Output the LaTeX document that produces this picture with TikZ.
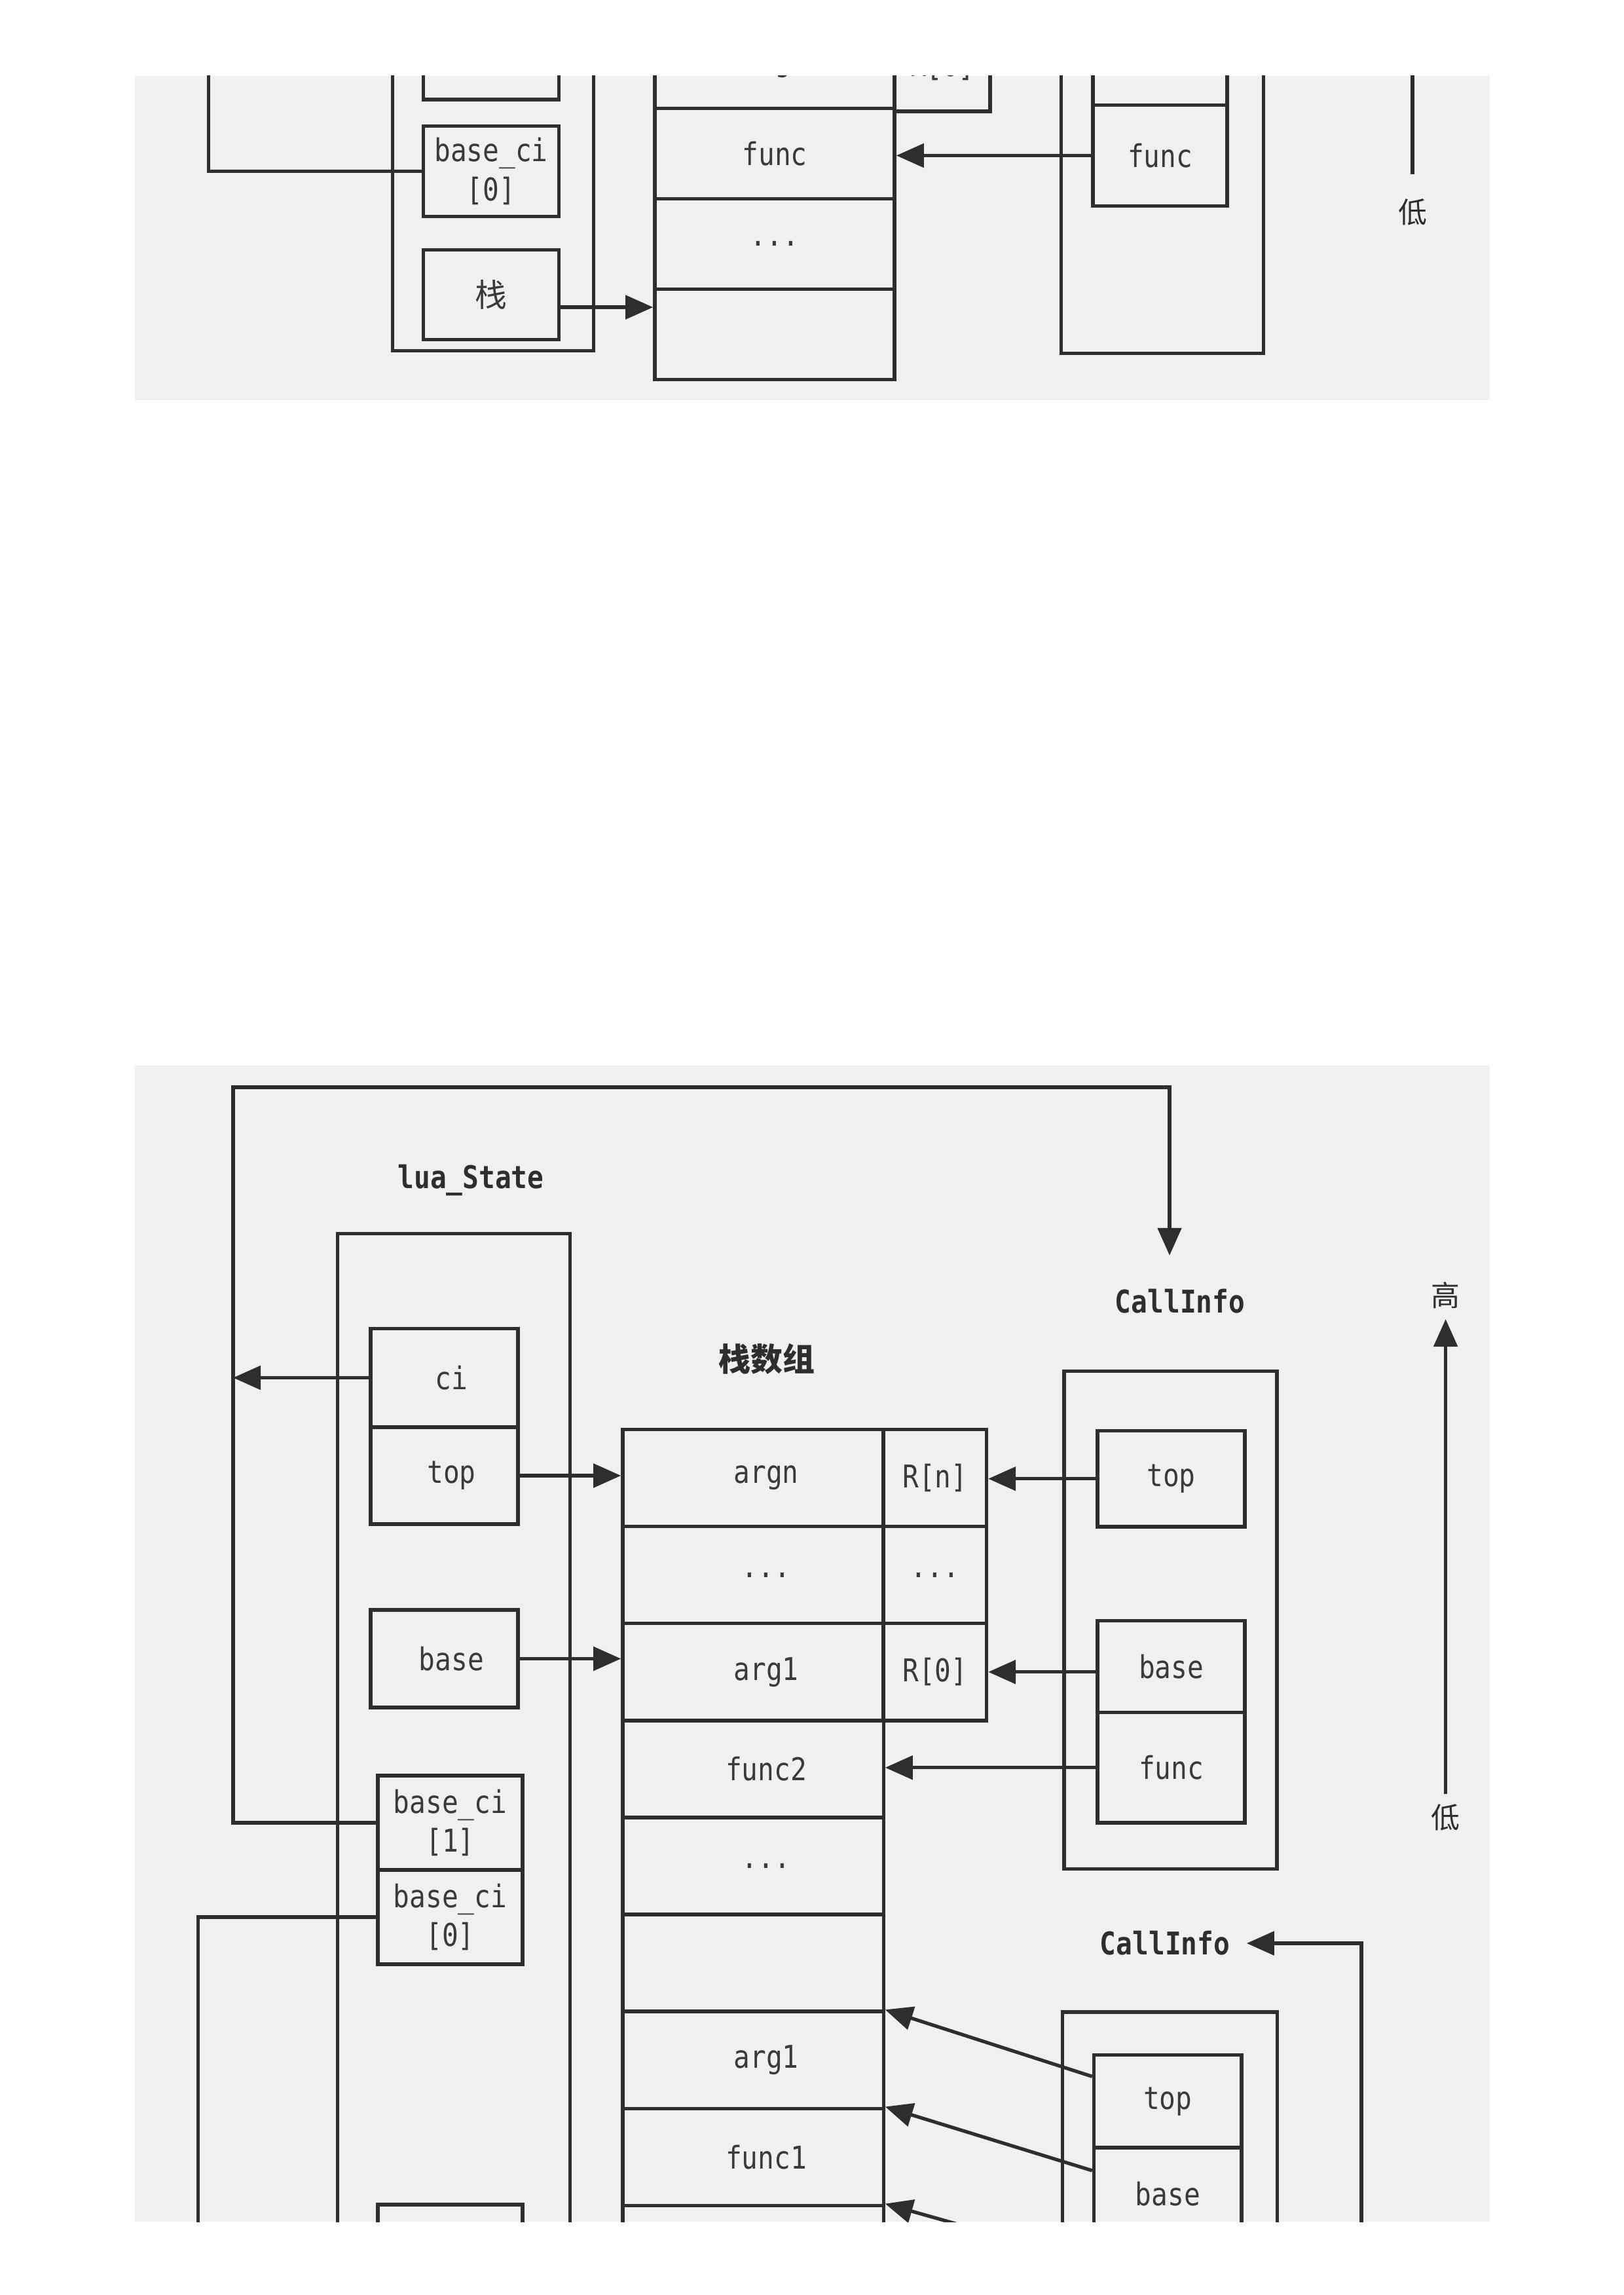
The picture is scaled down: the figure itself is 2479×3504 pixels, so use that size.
\documentclass[tikz,border=0pt]{standalone}
\usepackage{fontspec}
\usetikzlibrary{arrows.meta}
\newfontfamily\monofont[FakeStretch=0.86]{DejaVu Sans Mono}
\newfontfamily\cjkfont{Noto Sans CJK SC}
\definecolor{ink}{HTML}{2E2E2E}
\definecolor{txt}{HTML}{3A3A3A}
\definecolor{paper}{HTML}{F0F0F0}
\newcommand\cellfont{\monofont\fontsize{13.6pt}{17pt}\selectfont}
\newcommand\tagfont{\monofont\bfseries\fontsize{13.6pt}{17pt}\selectfont}
\newcommand\hanfont{\cjkfont\fontsize{13.9pt}{17pt}\selectfont}
\newcommand\dirfont{\cjkfont\fontsize{12.5pt}{15pt}\selectfont}
\begin{document}
\begin{tikzpicture}[x=0.01cm,y=-0.01cm,
  cell/.style={draw=ink,line width=1.5pt,inner sep=0pt,text=txt,font=\cellfont,align=center},
  nudge/.style={execute at begin node={\hspace*{#1}}},
  slot/.style={cell,nudge=4mm,minimum width=3.98cm,minimum height=1.481cm},
  reg/.style={cell,minimum width=1.575cm,minimum height=1.481cm},
  outer/.style={draw=ink,line width=1.5pt,inner sep=0pt},
  tag/.style={inner sep=0pt,text=ink,font=\tagfont},
  han/.style={inner sep=0pt,text=ink,font=\hanfont},
  dir/.style={inner sep=1.5mm,text=ink,font=\dirfont},
  ln/.style={draw=ink,line width=1.5pt},
  arr/.style={draw=ink,line width=1.5pt,-{Triangle[length=4.2mm,width=3.6mm]}}]
\useasboundingbox (0,0) rectangle (2479,3504);
\fill[white] (0,0) rectangle (2479,3504);
\fill[paper] (206,116) rectangle (2275,611);
\fill[paper] (206,1627) rectangle (2275,3392);

% upper scrap
\begin{scope}
\clip (206,116) rectangle (2275,611);
\node[outer,anchor=south west,minimum width=3.07cm,minimum height=6cm] (tls) at (597,538) {};
\node[cell,minimum width=2.07cm,minimum height=1.38cm] (tbci1) at (750,83) {};
\node[cell,minimum width=2.07cm,minimum height=1.38cm] (tbci0) at (750,261.5) {base\_ci\\{[0]}};
\node[cell,minimum width=2.07cm,minimum height=1.374cm,font=\hanfont] (tstk) at (750,450.1) {栈};
\node[cell,minimum width=3.66cm,minimum height=1.38cm] (ts1) at (1183,96.2) {arg1};
\node[cell,minimum width=3.66cm,minimum height=1.38cm] (ts2) at (1183,234.2) {func};
\node[cell,minimum width=3.66cm,minimum height=1.38cm] (ts3) at (1183,372.2) {...};
\node[cell,minimum width=3.66cm,minimum height=1.38cm] (ts4) at (1183,510.2) {};
\node[cell,minimum width=1.46cm,minimum height=1.38cm] (tr1) at (1439,101) {R[0]};
\node[outer,anchor=south west,minimum width=3.09cm,minimum height=6cm] (tci) at (1618,542) {};
\node[cell,minimum width=2.05cm,minimum height=1.4cm] (tcb) at (1771.5,90.2) {base};
\node[cell,minimum width=2.05cm,minimum height=1.546cm] (tcf) at (1771.5,237.5) {func};
\node[dir] (tlo) at (2157,323.6) {低};
\coordinate (tl) at (318.4,60);
\coordinate (thi) at (2157,60);
\coordinate (tsa) at ([yshift=-1.9mm]tstk.east);
\draw[ln] (tl) |- (tbci0.west);
\draw[arr] (tsa) -- (tsa -| ts4.west);
\draw[arr] (tcf.west) -- (tcf.west -| ts2.east);
\draw[arr,shorten <=2.2mm] (tlo) -- (thi);
\end{scope}

% lower figure
\begin{scope}
\clip (206,1627) rectangle (2275,3392);
\node[tag] (lsn) at (719,1802) {lua\_State};
\node[outer,anchor=north west,minimum width=3.55cm,minimum height=17cm] (ls) at (513,1881) {};
\node[cell,nudge=2.2mm,minimum width=2.25cm,minimum height=1.5cm] (ci) at (678.5,2103.5) {ci};
\node[cell,nudge=2.2mm,minimum width=2.25cm,minimum height=1.48cm] (top) at (678.5,2253) {top};
\node[cell,nudge=2.2mm,minimum width=2.25cm,minimum height=1.49cm] (base) at (678.5,2532.5) {base};
\node[cell,minimum width=2.21cm,minimum height=1.44cm] (bci1) at (687.5,2783) {base\_ci\\{[1]}};
\node[cell,minimum width=2.21cm,minimum height=1.44cm] (bci0) at (687.5,2927) {base\_ci\\{[0]}};
\node[cell,minimum width=2.21cm,minimum height=1.44cm] (bstk) at (687.5,3438) {};

\node[han,font=\hanfont\bfseries] (stkn) at (1171,2075) {栈数组};
\node[slot] (s1) at (1150,2256.55) {argn};
\node[slot] (s2) at (1150,2404.65) {...};
\node[slot] (s3) at (1150,2552.75) {arg1};
\node[slot] (s4) at (1150,2700.85) {func2};
\node[slot] (s5) at (1150,2848.95) {...};
\node[slot] (s6) at (1150,2997.05) {};
\node[slot] (s7) at (1150,3145.15) {arg1};
\node[slot] (s8) at (1150,3293.25) {func1};
\node[slot] (s9) at (1150,3441.35) {};
\node[reg] (r1) at (1427.75,2256.55) {R[n]};
\node[reg] (r2) at (1427.75,2404.65) {...};
\node[reg] (r3) at (1427.75,2552.75) {R[0]};

\node[tag] (ci1n) at (1802,1987) {CallInfo};
\node[outer,minimum width=3.25cm,minimum height=7.59cm] (ci1) at (1787.5,2473.5) {};
\node[cell,minimum width=2.25cm,minimum height=1.465cm] (ct1) at (1788.5,2257.75) {top};
\node[cell,minimum width=2.25cm,minimum height=1.4cm] (cb1) at (1788.5,2544.5) {base};
\node[cell,minimum width=2.25cm,minimum height=1.685cm] (cf1) at (1788.5,2698.75) {func};

\node[tag] (ci2n) at (1779,2967) {CallInfo};
\node[outer,anchor=north west,minimum width=3.28cm,minimum height=6cm] (ci2) at (1620,3069.4) {};
\node[cell,minimum width=2.255cm,minimum height=1.413cm] (ct2) at (1783.25,3208.35) {top};
\node[cell,minimum width=2.255cm,minimum height=1.42cm] (cb2) at (1783.25,3350) {base};
\node[cell,minimum width=2.255cm,minimum height=1.42cm] (cf2) at (1783.25,3492) {};

\node[dir] (hi) at (2207.6,1978) {高};
\node[dir] (lo) at (2207.6,2775) {低};

\coordinate (loopl) at (356,1660);
\coordinate (loopr) at (1786,1660);
\coordinate (lowl) at (302.5,3470);
\coordinate (lowr) at (2079,3470);

\draw[arr,shorten >=5.1mm] (bci1.west) -| (loopl) -- (loopr) -- (loopr |- ci1n.north);
\draw[arr] (ci.west) -- (ci.west -| loopl);
\draw[arr] (top.east) -- (top.east -| s1.west);
\draw[arr] (base.east) -- (base.east -| s3.west);
\draw[arr] (ct1.west) -- (ct1.west -| r1.east);
\draw[arr] (cb1.west |- r3.east) -- (r3.east);
\draw[arr] (cf1.west) -- (cf1.west -| s4.east);
\draw[arr] (lo) -- (hi);
\draw[arr,shorten >=2.5mm] (bci0.west) -| (lowl) -- (lowr) |- (ci2n.east);
\draw[arr] ([yshift=3.8mm]ct2.west) -- (s7.north east);
\draw[arr] ([yshift=3.6mm]cb2.west) -- (s8.north east);
\draw[arr] ([yshift=3.8mm]cf2.west) -- (s9.north east);
\end{scope}
\end{tikzpicture}
\end{document}
